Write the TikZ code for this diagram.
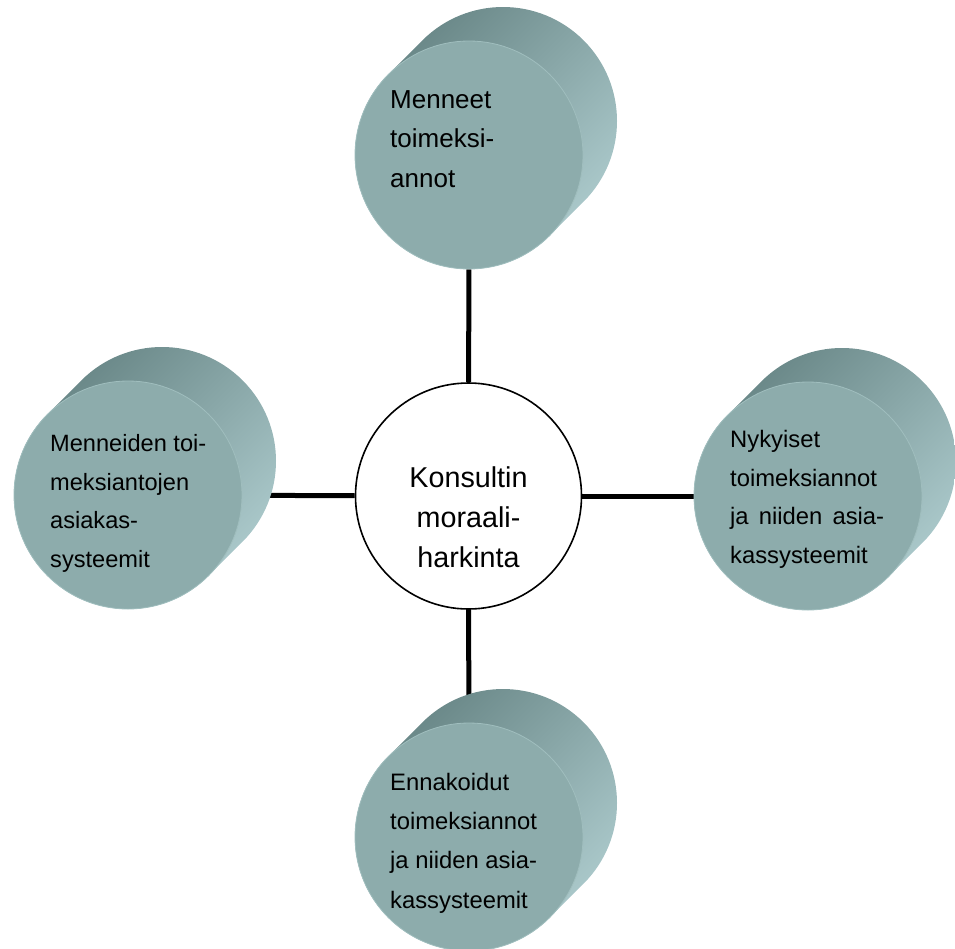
\documentclass[tikz,border=0pt]{standalone}
\usepackage{fontspec}
\setmainfont{Liberation Sans}
\definecolor{faceC}{RGB}{141,172,172}
\definecolor{rimC}{RGB}{160,190,190}
\definecolor{sideDark}{RGB}{100,130,130}
\definecolor{sideLight}{RGB}{176,206,208}
\pgfdeclarelayer{background}
\pgfsetlayers{background,main}
\tikzset{
  face/.style={circle, minimum size=228pt, inner sep=0pt, fill=faceC, draw=rimC, line width=0.8pt},
  drumside/.style={top color=sideDark, bottom color=sideLight, shading angle=45},
  % multi-line captions are placed by the baseline of their last line
  caption/.style={anchor=base west, align=left, inner sep=0pt},
  core/.style={circle, minimum size=226pt, inner sep=0pt, fill=white, draw=black, line width=1.6pt},
  link/.style={line width=5pt},
}
% a drum seen from the front: shaded side extruded up-right, flat front face as a named node
\newcommand\drum[2]{%
  \begin{scope}[shift={#2}]
    \shade[drumside] (-80.61,-80.61) -- (-46.61,-114.61)
      arc[start angle=225, end angle=405, radius=114] -- (80.61,80.61)
      arc[start angle=45, end angle=225, radius=114] -- cycle;
    \node[face] (#1) at (0,0) {};
  \end{scope}}
\begin{document}
\begin{tikzpicture}[x=1pt, y=-1pt]
  \useasboundingbox (0,0) rectangle (955,948);

  \drum{past}{(469,155)}
  \drum{pastclients}{(128,495)}
  \drum{present}{(808,496)}
  \drum{future}{(469,837)}

  \node[core] (moral) at (468.5,496) {};

  \begin{pgfonlayer}{background}
    \draw[link] (moral) -- (past);
    \draw[link] (moral) -- (pastclients);
    \draw[link] (moral) -- (present);
    \draw[link] (moral) -- (future);
  \end{pgfonlayer}

  \node[caption, font=\fontsize{26}{39.5}\selectfont] (pastT) at (390,187)
    {Menneet\\toimeksi-\\annot};
  \node[caption, font=\fontsize{23.6}{38.5}\selectfont] (pastclientsT) at (50,567)
    {Menneiden toi-\\meksiantojen\\asiakas-\\systeemit};
  \node[caption, font=\fontsize{23.8}{38.5}\selectfont] (presentT) at (730,563)
    {Nykyiset\\toimeksiannot\\\makebox[154pt][s]{ja niiden asia-}\\kassysteemit};
  \node[caption, font=\fontsize{23.8}{39.3}\selectfont] (futureT) at (390,908)
    {Ennakoidut\\toimeksiannot\\ja niiden asia-\\kassysteemit};
  \node[anchor=base, align=center, inner sep=0pt, font=\fontsize{28.7}{40}\selectfont] (moralT) at (468.5,567)
    {Konsultin\\moraali-\\harkinta};
\end{tikzpicture}
\end{document}
